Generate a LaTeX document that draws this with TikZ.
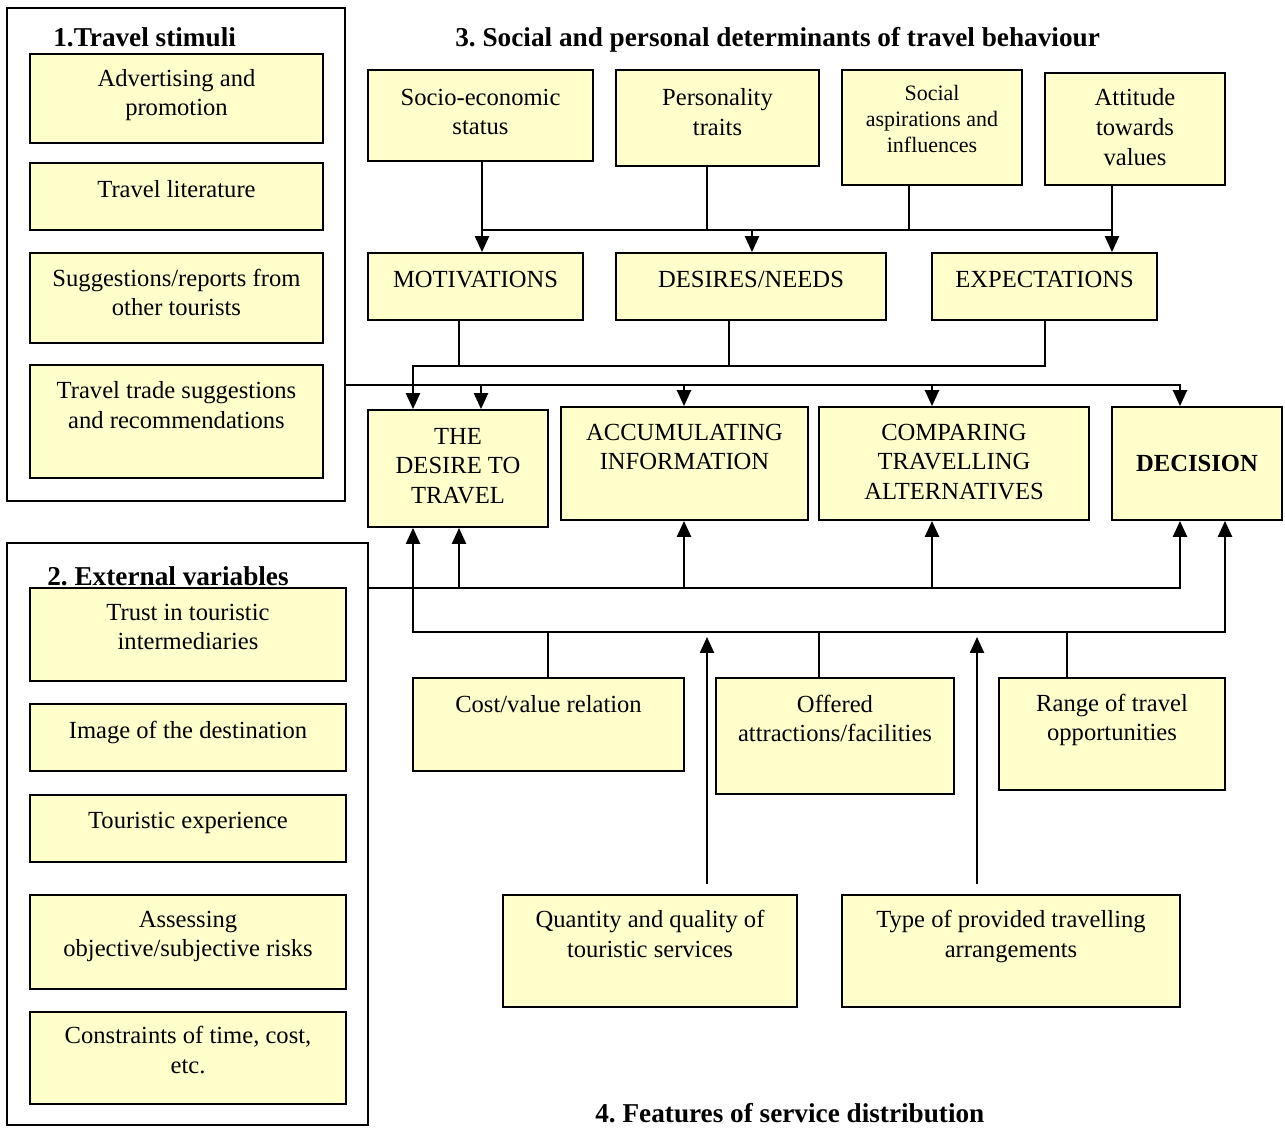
\documentclass[tikz,border=0pt]{standalone}
\usepackage{fontspec}
\setmainfont{Liberation Serif}
\usepackage{xcolor}
\usepackage{tikz}
\usetikzlibrary{arrows.meta,positioning}
\frenchspacing
\definecolor{boxfill}{HTML}{FFFFCC}
\tikzset{
  box/.style={draw=black, fill=boxfill, line width=1.1pt, inner sep=0pt},
  frame/.style={draw=black, line width=1pt, inner sep=0pt},
  txt/.style={align=center, inner sep=0pt, font=\fontsize{14}{16.8}\selectfont},
  stxt/.style={align=center, inner sep=0pt, font=\fontsize{12.5}{14.8}\selectfont},
  head/.style={inner sep=0pt, font=\fontsize{15.5}{18}\selectfont\bfseries},
  line/.style={draw=black, line width=1pt},
  arr/.style={line, -{Triangle[length=9pt,width=8pt]}},
  arrs/.style={line, {Triangle[length=9pt,width=8pt]}-{Triangle[length=9pt,width=8pt]}}
}

\begin{document}
\begin{tikzpicture}[x=0.02cm, y=-0.02cm]
  \useasboundingbox (0,0) rectangle (1285,1127);

  % frames and headings
  \node[frame, minimum width=6.76cm, minimum height=9.86cm] (stimF) at (176,254.5) {};
  \node[frame, minimum width=7.22cm, minimum height=11.64cm] (extF) at (187.5,834) {};
  \node[head, anchor=base west] (h1) at (53,46) {1.Travel stimuli};
  \node[head, anchor=base west] (h2) at (47,585) {2. External variables};
  \node[head, anchor=base west] (h3) at (455,46) {3. Social and personal determinants of travel behaviour};
  \node[head, anchor=base west] (h4) at (595,1122) {4. Features of service distribution};

  % 1. travel stimuli
  \node[box, minimum width=5.86cm, minimum height=1.78cm] (adv) at (176.5,98.5) {};
  \node[txt, below=0.32cm of adv.north] (advT) {Advertising and\\promotion};
  \node[box, minimum width=5.86cm, minimum height=1.34cm] (lit) at (176.5,196.5) {};
  \node[txt, below=0.36cm of lit.north] (litT) {Travel literature};
  \node[box, minimum width=5.86cm, minimum height=1.8cm] (sug) at (176.5,298) {};
  \node[txt, below=0.33cm of sug.north] (sugT) {Suggestions/reports from\\other tourists};
  \node[box, minimum width=5.86cm, minimum height=2.26cm] (trade) at (176.5,421.5) {};
  \node[txt, below=0.35cm of trade.north] (tradeT) {Travel trade suggestions\\and recommendations};

  % 2. external variables
  \node[box, minimum width=6.32cm, minimum height=1.86cm] (trust) at (188,634.5) {};
  \node[txt, below=0.33cm of trust.north] (trustT) {Trust in touristic\\intermediaries};
  \node[box, minimum width=6.32cm, minimum height=1.34cm] (image) at (188,737.5) {};
  \node[txt, below=0.35cm of image.north] (imageT) {Image of the destination};
  \node[box, minimum width=6.32cm, minimum height=1.34cm] (tour) at (188,828.5) {};
  \node[txt, below=0.35cm of tour.north] (tourT) {Touristic experience};
  \node[box, minimum width=6.32cm, minimum height=1.88cm] (risk) at (188,942) {};
  \node[txt, below=0.33cm of risk.north] (riskT) {Assessing\\objective/subjective risks};
  \node[box, minimum width=6.32cm, minimum height=1.84cm] (limit) at (188,1058) {};
  \node[txt, below=0.3cm of limit.north] (limitT) {Constraints of time, cost,\\etc.};

  % 3. determinants
  \node[box, minimum width=4.5cm, minimum height=1.82cm] (socio) at (480.5,115.5) {};
  \node[txt, below=0.39cm of socio.north] (socioT) {Socio-economic\\status};
  \node[box, minimum width=4.06cm, minimum height=1.92cm] (pers) at (717.5,118) {};
  \node[txt, below=0.39cm of pers.north] (persT) {Personality\\traits};
  \node[box, minimum width=3.6cm, minimum height=2.3cm] (asp) at (932,127.5) {};
  \node[stxt, below=0.32cm of asp.north] (aspT) {Social\\aspirations and\\influences};
  \node[box, minimum width=3.6cm, minimum height=2.24cm] (att) at (1135,129) {};
  \node[txt, below=0.33cm of att.north] (attT) {Attitude\\towards\\values};

  \node[box, minimum width=4.3cm, minimum height=1.34cm] (mot) at (475.5,286.5) {};
  \node[txt, below=0.37cm of mot.north] (motT) {MOTIVATIONS};
  \node[box, minimum width=5.4cm, minimum height=1.34cm] (des) at (751,286.5) {};
  \node[txt, below=0.37cm of des.north] (desT) {DESIRES/NEEDS};
  \node[box, minimum width=4.5cm, minimum height=1.34cm] (exp) at (1044.5,286.5) {};
  \node[txt, below=0.37cm of exp.north] (expT) {EXPECTATIONS};

  % decision steps
  \node[box, minimum width=3.6cm, minimum height=2.34cm] (wish) at (458,468.5) {};
  \node[txt, below=0.37cm of wish.north] (wishT) {THE\\DESIRE TO\\TRAVEL};
  \node[box, minimum width=4.94cm, minimum height=2.26cm] (acc) at (684.5,463.5) {};
  \node[txt, below=0.35cm of acc.north] (accT) {ACCUMULATING\\INFORMATION};
  \node[box, minimum width=5.4cm, minimum height=2.26cm] (comp) at (954,463.5) {};
  \node[txt, below=0.35cm of comp.north] (compT) {COMPARING\\TRAVELLING\\ALTERNATIVES};
  \node[box, minimum width=3.4cm, minimum height=2.26cm] (dec) at (1197,463.5) {};
  \node[txt, font=\fontsize{14}{16.8}\selectfont\bfseries] (decT) at (dec) {DECISION};

  % 4. service distribution
  \node[box, minimum width=5.42cm, minimum height=1.86cm] (cost) at (548.5,724.5) {};
  \node[txt, below=0.37cm of cost.north] (costT) {Cost/value relation};
  \node[box, minimum width=4.76cm, minimum height=2.32cm] (offer) at (835,736) {};
  \node[txt, below=0.35cm of offer.north] (offerT) {Offered\\attractions/facilities};
  \node[box, minimum width=4.52cm, minimum height=2.24cm] (range) at (1112,734) {};
  \node[txt, below=0.33cm of range.north] (rangeT) {Range of travel\\opportunities};
  \node[box, minimum width=5.88cm, minimum height=2.24cm] (quant) at (650,951) {};
  \node[txt, below=0.32cm of quant.north] (quantT) {Quantity and quality of\\touristic services};
  \node[box, minimum width=6.76cm, minimum height=2.24cm] (type) at (1011,951) {};
  \node[txt, below=0.32cm of type.north] (typeT) {Type of provided travelling\\arrangements};

  % junctions
  \coordinate (b1) at (482,230);
  \coordinate (b2) at (707,230);
  \coordinate (b3) at (752,230);
  \coordinate (b4) at (909,230);
  \coordinate (b5) at (1112,230);
  \coordinate (m1) at (413,366);
  \coordinate (m2) at (459,366);
  \coordinate (m3) at (729,366);
  \coordinate (m4) at (1045,366);
  \coordinate (s1) at (481,385);
  \coordinate (s2) at (684,385);
  \coordinate (s3) at (932,385);
  \coordinate (s4) at (1180,385);
  \coordinate (e1) at (459,588);
  \coordinate (e2) at (684,588);
  \coordinate (e3) at (932,588);
  \coordinate (e4) at (1180,588);
  \coordinate (f1) at (413,632);
  \coordinate (f2) at (548,632);
  \coordinate (f3) at (819,632);
  \coordinate (f4) at (1067,632);
  \coordinate (f5) at (1225,632);
  \coordinate (q1) at (707,637);
  \coordinate (q2) at (977,637);

  % determinants to motivations/desires/expectations
  \draw[line] (socio.south -| b1) -- (b1);
  \draw[line] (pers.south -| b2) -- (b2);
  \draw[line] (asp.south -| b4) -- (b4);
  \draw[line] (att.south -| b5) -- (b5);
  \draw[line] (b1) -- (b5);
  \draw[arr] (b1) -- (mot.north -| b1);
  \draw[arr] (b3) -- (des.north -| b3);
  \draw[arr] (b5) -- (exp.north -| b5);

  \draw[line] (mot.south -| m2) -- (m2);
  \draw[line] (des.south -| m3) -- (m3);
  \draw[arr] (exp.south -| m4) -- (m4) -- (m1) -- (wish.north -| m1);

  % stimuli
  \draw[arr] (stimF.east |- s4) -- (s4) -- (dec.north -| s4);
  \draw[arr] (s1) -- (wish.north -| s1);
  \draw[arr] (s2) -- (acc.north -| s2);
  \draw[arr] (s3) -- (comp.north -| s3);

  % external variables
  \draw[arr] (extF.east |- e4) -- (e4) -- (dec.south -| e4);
  \draw[arr] (e1) -- (wish.south -| e1);
  \draw[arr] (e2) -- (acc.south -| e2);
  \draw[arr] (e3) -- (comp.south -| e3);

  % service distribution
  \draw[arrs] (wish.south -| f1) -- (f1) -- (f5) -- (dec.south -| f5);
  \draw[line] (f2) -- (cost.north -| f2);
  \draw[line] (f3) -- (offer.north -| f3);
  \draw[line] (f4) -- (range.north -| f4);
  \draw[arr, shorten <=5.7pt] (quant.north -| q1) -- (q1);
  \draw[arr, shorten <=5.7pt] (type.north -| q2) -- (q2);
\end{tikzpicture}
\end{document}
